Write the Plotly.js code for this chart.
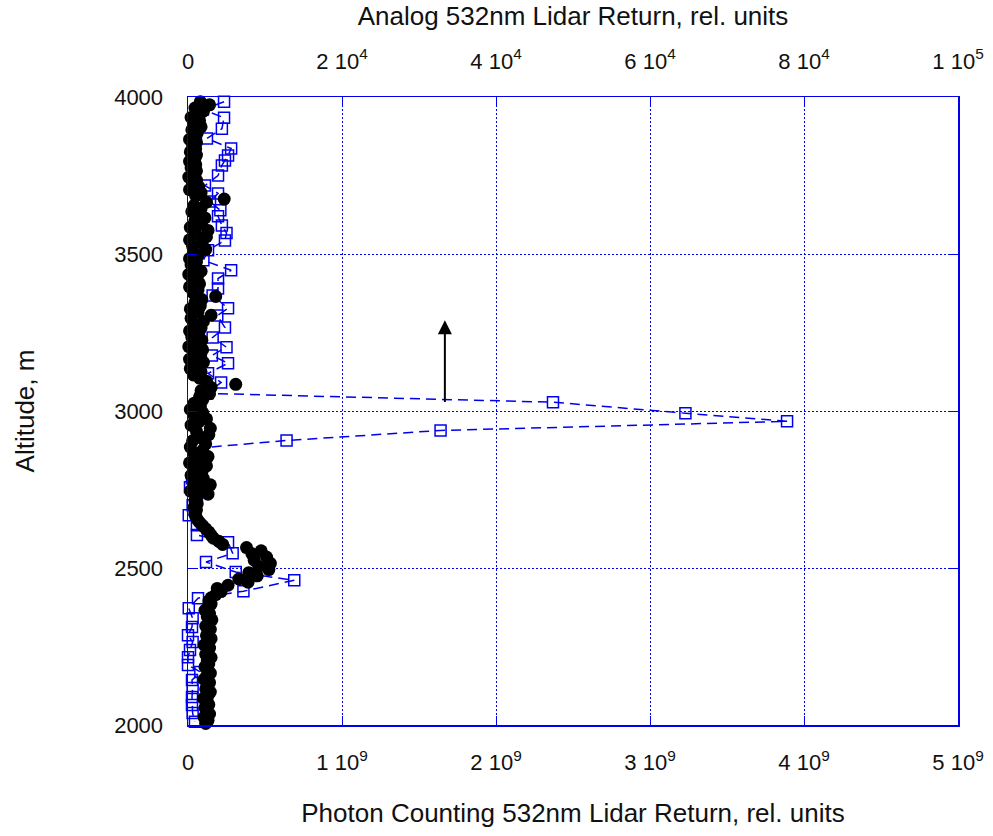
<!DOCTYPE html>
<html><head><meta charset="utf-8">
<script src="https://cdn.plot.ly/plotly-3.0.1.min.js"></script>
<style>html,body{margin:0;padding:0;background:#fff}#chart{width:993px;height:836px}</style>
</head><body><div id="chart"></div>
<script>
// Analog 532 nm return (black dots, top axis), altitude in m
const analogAlt = [
  2005,2015,2025,2035,2045,2055,2065,2075,2085,2095,
  2105,2115,2125,2135,2145,2155,2165,2175,2185,2195,
  2205,2215,2225,2235,2245,2255,2265,2275,2285,2295,
  2305,2315,2325,2335,2345,2355,2365,2375,2385,2395,
  2405,2415,2425,2435,2445,2455,2465,2475,2485,2495,
  2505,2515,2525,2535,2545,2555,2565,2575,2585,2595,
  2605,2615,2625,2635,2645,2655,2665,2675,2685,2695,
  2705,2715,2725,2735,2745,2755,2765,2775,2785,2795,
  2805,2815,2825,2835,2845,2855,2865,2875,2885,2895,
  2905,2915,2925,2935,2945,2955,2965,2975,2985,2995,
  3005,3015,3025,3035,3045,3055,3065,3075,3085,3095,
  3105,3115,3125,3135,3145,3155,3165,3175,3185,3195,
  3205,3215,3225,3235,3245,3255,3265,3275,3285,3295,
  3305,3315,3325,3335,3345,3355,3365,3375,3385,3395,
  3405,3415,3425,3435,3445,3455,3465,3475,3485,3495,
  3505,3515,3525,3535,3545,3555,3565,3575,3585,3595,
  3605,3615,3625,3635,3645,3655,3665,3675,3685,3695,
  3705,3715,3725,3735,3745,3755,3765,3775,3785,3795,
  3805,3815,3825,3835,3845,3855,3865,3875,3885,3895,
  3905,3915,3925,3935,3945,3955,3965,3975,3985];
const analogReturn = [
  2300,2600,2100,2800,2400,2200,2700,2500,2000,2600,
  2900,2300,2500,2800,2100,2400,2900,2600,2200,2700,
  2500,3000,2300,2600,2800,2100,2700,3000,2400,2600,
  2900,2300,2700,3100,2500,2800,2200,2600,3000,2700,
  3000,3600,4300,3800,5200,7800,6600,9000,7900,10500,
  9200,10700,8600,10200,8300,9500,7600,4500,4000,3300,
  3000,2700,2300,1900,1500,1200,1000,900,1100,800,
  1200,900,1100,2600,300,1500,2900,700,2000,400,
  1800,900,2400,200,1500,2600,800,1900,300,2300,
  600,1700,2700,1100,2900,400,1400,2400,800,1900,
  300,1600,800,1900,1500,2800,1700,3000,6200,2400,
  1500,700,1700,300,1400,2000,200,1600,900,1900,
  100,1200,1800,500,1400,200,1700,900,2000,400,
  3000,1300,300,1600,900,1800,3600,700,1300,200,
  1500,600,1200,100,1700,900,400,1100,200,1300,
  700,2300,600,1800,200,2400,1000,2600,300,1700,
  900,2200,1300,500,1700,800,2400,4700,1000,1700,
  200,1400,600,1100,100,900,1100,400,1000,200,
  900,1100,300,1000,600,1100,200,800,1200,500,
  1700,800,1500,400,1200,2000,900,2800,1600];

// Photon counting 532 nm return (blue squares, bottom axis), values in units of 1e9
const pcAlt = [3985,3960,3934,3899,3868,3836,3814,3798,3782,3750,3718,3693,3667,3639,3620,3591,3567,3543,3512,3480,
  3448,3422,3390,3368,3327,3304,3266,3234,3203,3177,3152,3120,3091,3056,3028,2993,2967,2938,2906,2881,
  2850,2811,2786,2757,2732,2700,2668,2636,2605,2582,2547,2519,2487,2461,2426,2404,2372,2340,2312,2286,
  2264,2239,2216,2191,2169,2143,2118,2089,2064,2038,2010];
const pcReturnE9 = [0.234,0.097,0.234,0.22,0.123,0.28,0.26,0.24,0.22,0.195,0.11,0.195,0.143,0.21,0.195,0.22,0.25,0.24,0.13,0.10,
  0.28,0.195,0.195,0.16,0.26,0.19,0.24,0.16,0.25,0.155,0.26,0.13,0.215,0.125,2.37,3.23,3.89,1.64,0.64,0.045,
  0.08,0.08,0.026,0.013,0.058,0.03,0.005,0.058,0.058,0.26,0.29,0.117,0.31,0.69,0.36,0.065,0.005,0.03,0.026,0.0,
  0.03,0.013,0.0,0.0,0.08,0.026,0.03,0.026,0.026,0.03,0.045];

const bottomTickVals = [0,1e9,2e9,3e9,4e9,5e9];
const bottomTickText = ['0','1 10<sup>9</sup>','2 10<sup>9</sup>','3 10<sup>9</sup>','4 10<sup>9</sup>','5 10<sup>9</sup>'];
const topTickVals = [0,2e4,4e4,6e4,8e4,1e5];
const topTickText = ['0','2 10<sup>4</sup>','4 10<sup>4</sup>','6 10<sup>4</sup>','8 10<sup>4</sup>','1 10<sup>5</sup>'];
const altTickVals = [2000,2500,3000,3500,4000];
const altTickText = ['2000','2500','3000','3500','4000'];

// arrow marking the layer (bottom-axis value, altitudes of base and tip)
const arrowX = 1.668e9, arrowBaseAlt = 3024, arrowTipAlt = 3289;

const BLUE = '#0000f0';
const FONT = 'Liberation Sans, Arial, sans-serif';

const traces = [
  {x: analogReturn, y: analogAlt, xaxis: 'x2', yaxis: 'y', type: 'scatter', mode: 'markers',
   marker: {symbol: 'circle', size: 13, color: '#000'}, cliponaxis: false, hoverinfo: 'skip'},
  {x: pcReturnE9.map(v => v * 1e9), y: pcAlt, xaxis: 'x', yaxis: 'y', type: 'scatter', mode: 'lines+markers',
   line: {color: BLUE, width: 1.5, dash: '10px,6px'},
   marker: {symbol: 'square-open', size: 11, color: BLUE, line: {width: 1.5, color: BLUE}},
   cliponaxis: false, hoverinfo: 'skip'}
];

const tickFont = {family: FONT, size: 22, color: '#111'};
const titleFont = {family: FONT, size: 26, color: '#111'};

const layout = {
  width: 993, height: 836,
  margin: {l: 188, r: 35, t: 97, b: 111, pad: 0},
  paper_bgcolor: '#fff', plot_bgcolor: '#fff',
  showlegend: false,
  xaxis: {
    range: [0, 5e9], tickmode: 'array', tickvals: bottomTickVals, ticktext: bottomTickText,
    showgrid: true, gridcolor: BLUE, gridwidth: 1, griddash: '2px,2px', zeroline: false,
    showline: true, linecolor: BLUE, linewidth: 1.5,
    ticks: 'inside', ticklen: 9, tickcolor: BLUE, tickwidth: 1,
    tickfont: tickFont, ticklabelstandoff: 17, automargin: false,
    title: {text: 'Photon Counting 532nm Lidar Return, rel. units', font: titleFont, standoff: 30}
  },
  xaxis2: {
    overlaying: 'x', side: 'top', range: [0, 1e5], tickmode: 'array', tickvals: topTickVals, ticktext: topTickText,
    showgrid: false, gridcolor: BLUE, zeroline: false, showline: true, linecolor: BLUE, linewidth: 1.5,
    ticks: 'inside', ticklen: 9, tickcolor: BLUE, tickwidth: 1,
    tickfont: tickFont, ticklabelstandoff: 18, automargin: false,
    title: {text: 'Analog 532nm Lidar Return, rel. units', font: titleFont, standoff: 12}
  },
  yaxis: {
    range: [2000, 4000], tickmode: 'array', tickvals: altTickVals, ticktext: altTickText,
    showgrid: true, gridcolor: BLUE, gridwidth: 1, griddash: '2px,2px', zeroline: false,
    showline: true, mirror: 'ticks', linecolor: BLUE, linewidth: 1.5,
    ticks: 'inside', ticklen: 9, tickcolor: BLUE, tickwidth: 1,
    tickfont: tickFont, ticklabelstandoff: 19, automargin: false,
    title: {text: 'Altitude, m', font: titleFont, standoff: 72}
  },
  annotations: [{
    x: arrowX, y: arrowTipAlt, ax: arrowX, ay: arrowBaseAlt, xref: 'x', yref: 'y', axref: 'x', ayref: 'y',
    text: '', showarrow: true, arrowhead: 2, arrowsize: 1.4, arrowwidth: 2, arrowcolor: '#000'
  }]
};

Plotly.newPlot('chart', traces, layout, {staticPlot: true, displayModeBar: false});
</script>
</body></html>
